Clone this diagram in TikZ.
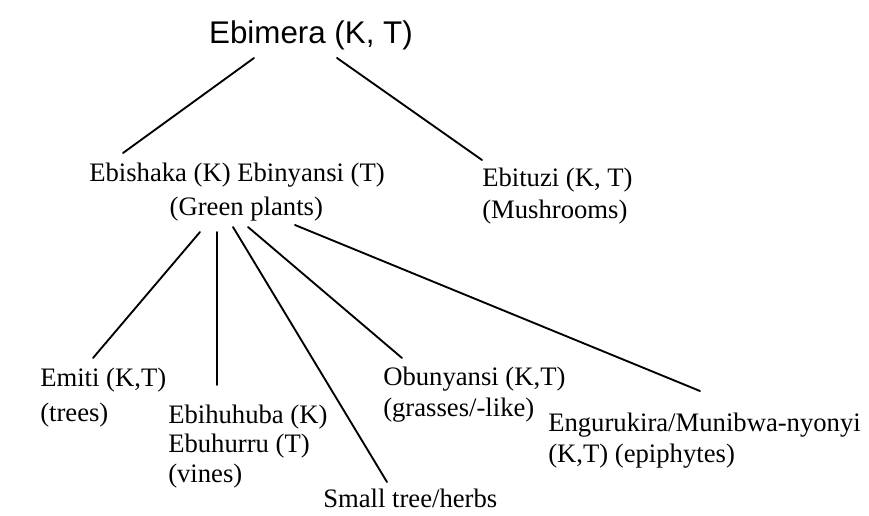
\documentclass[tikz,border=0pt]{standalone}
\usepackage{fontspec}
\setmainfont{Liberation Serif}
\newfontfamily\headfont{Liberation Sans}
\begin{document}
\begin{tikzpicture}[x=0.75pt, y=-0.75pt,
    taxon/.style={inner sep=0pt, align=left, anchor=base west,
      font=\fontsize{20}{#1}\selectfont},
    taxon/.default=23pt,
    branch/.style={line width=1.4pt, line cap=round}]
  \useasboundingbox (0,0) rectangle (869,515);

  % Rot
  \node[inner sep=0pt, anchor=base, font=\headfont\fontsize{23.5}{28}\selectfont]
    (root) at (311,43) {Ebimera (K, T)};

  % Nivaa 1 (anker = siste linje)
  \node[taxon=25.5pt, align=center, anchor=base] (green) at (237,215)
    {Ebishaka (K) Ebinyansi (T)\\\hspace*{14pt}(Green plants)};
  \node[taxon=24pt] (mush) at (482,218) {Ebituzi (K, T)\\(Mushrooms)};

  % Nivaa 2
  \node[taxon=26pt] (trees) at (40,421) {Emiti (K,T)\\(trees)};
  \node[taxon=22pt] (vines) at (168,482) {Ebihuhuba (K)\\Ebuhurru (T)\\(vines)};
  \node[taxon] (herbs) at (323,507) {Small tree/herbs};
  \node[taxon] (grass) at (383,416) {Obunyansi (K,T)\\(grasses/-like)};
  \node[taxon] (epi) at (548,462) {Engurukira/Munibwa-nyonyi\\(K,T) (epiphytes)};

  % Endepunkter
  \coordinate (root-l) at (254,58);
  \coordinate (root-r) at (337,58);
  \coordinate (green-t) at (123,153);
  \coordinate (mush-t) at (482,160);
  \coordinate (green-1) at (200,232);
  \coordinate (green-2) at (217,232);
  \coordinate (green-3) at (233,227);
  \coordinate (green-4) at (248,227);
  \coordinate (green-5) at (295,225);
  \coordinate (trees-t) at (93,358);
  \coordinate (vines-t) at (217,385);
  \coordinate (herbs-t) at (387,482);
  \coordinate (grass-t) at (402,358);
  \coordinate (epi-t) at (700,391);

  % Greiner
  \foreach \a/\b in {root-l/green-t, root-r/mush-t, green-1/trees-t,
      green-2/vines-t, green-3/herbs-t, green-4/grass-t, green-5/epi-t}
    \draw[branch] (\a) -- (\b);
\end{tikzpicture}
\end{document}
